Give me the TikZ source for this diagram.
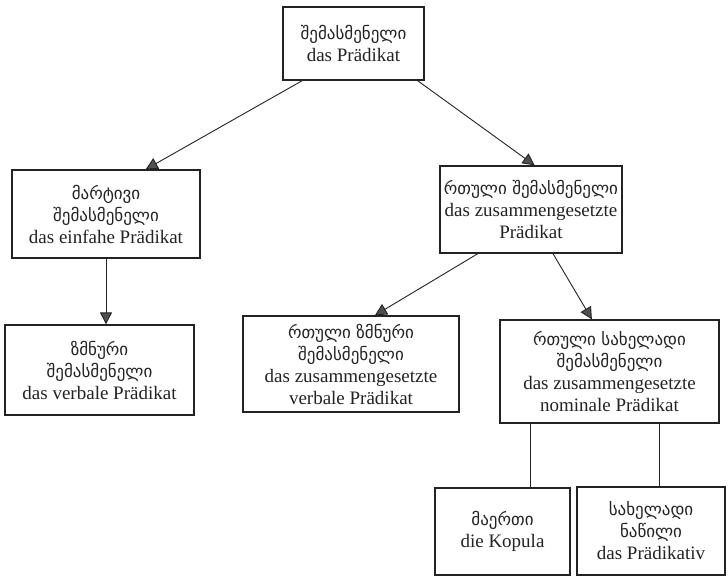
\documentclass[tikz,border=0pt]{standalone}
\usepackage{fontspec}
\setmainfont{Liberation Serif}
\newfontfamily\geofont{DejaVu Sans}
\usetikzlibrary{arrows.meta, calc}
\newcommand{\geo}[1]{{\geofont\fontsize{17}{22}\selectfont #1}}
\definecolor{inkGray}{RGB}{35,35,35}
\tikzset{
  predBox/.style   = {rectangle, draw=inkGray, line width=1.3pt, fill=white,
                      align=center, inner sep=2pt, text=inkGray,
                      font=\fontsize{19}{22}\selectfont},
  predArrow/.style = {-{Triangle[length=12pt,width=12pt,fill=inkGray!80]},
                      draw=inkGray, line width=0.9pt},
  predLine/.style  = {draw=inkGray, line width=0.9pt},
}

\begin{document}
\begin{tikzpicture}[x=1pt, y=-1pt]
  \useasboundingbox (0,0) rectangle (728,577);
  % boxes
  \node[predBox, minimum width=141pt, minimum height=73pt] (pred) at (353.5,43.5)
      {\geo{შემასმენელი}\\das Prädikat};
  \node[predBox, minimum width=188pt, minimum height=88pt] (simple) at (106,214)
      {\geo{მარტივი}\\\geo{შემასმენელი}\\das einfahe Prädikat};
  \node[predBox, minimum width=182pt, minimum height=87pt] (comp) at (531,209.5)
      {\geo{რთული შემასმენელი}\\das zusammengesetzte\\Prädikat};
  \node[predBox, minimum width=189pt, minimum height=90pt] (verbal) at (99.5,370)
      {\geo{ზმნური}\\\geo{შემასმენელი}\\das verbale Prädikat};
  \node[predBox, minimum width=216pt, minimum height=96pt] (compverb) at (351,364)
      {\geo{რთული ზმნური}\\\geo{შემასმენელი}\\das zusammengesetzte\\verbale Prädikat};
  \node[predBox, minimum width=219pt, minimum height=103pt] (compnom) at (609.5,371.5)
      {\geo{რთული სახელადი}\\\geo{შემასმენელი}\\das zusammengesetzte\\nominale Prädikat};
  \node[predBox, minimum width=135pt, minimum height=87pt] (kopula) at (502.5,531.5)
      {\geo{მაერთი}\\die Kopula};
  \node[predBox, minimum width=148pt, minimum height=88pt] (nompart) at (651,531)
      {\geo{სახელადი}\\\geo{ნაწილი}\\das Prädikativ};
  % connectors
  \draw[predArrow] ($(pred.south west)!0.14!(pred.south east)$)
      -- ($(simple.north west)!0.71!(simple.north east)$);
  \draw[predArrow] ($(pred.south west)!0.95!(pred.south east)$)
      -- ($(comp.north west)!0.52!(comp.north east)$);
  \draw[predArrow] (simple.south) -- (simple.south |- verbal.north);
  \draw[predArrow] ($(comp.south west)!0.21!(comp.south east)$)
      -- ($(compverb.north west)!0.61!(compverb.north east)$);
  \draw[predArrow] ($(comp.south west)!0.62!(comp.south east)$)
      -- ($(compnom.north west)!0.42!(compnom.north east)$);
  \coordinate (nomA) at ($(compnom.south west)+(31,0)$);
  \coordinate (nomB) at ($(compnom.south west)+(160,0)$);
  \draw[predLine] (nomA) -- (nomA |- kopula.north);
  \draw[predLine] (nomB) -- (nomB |- nompart.north);
\end{tikzpicture}
\end{document}
